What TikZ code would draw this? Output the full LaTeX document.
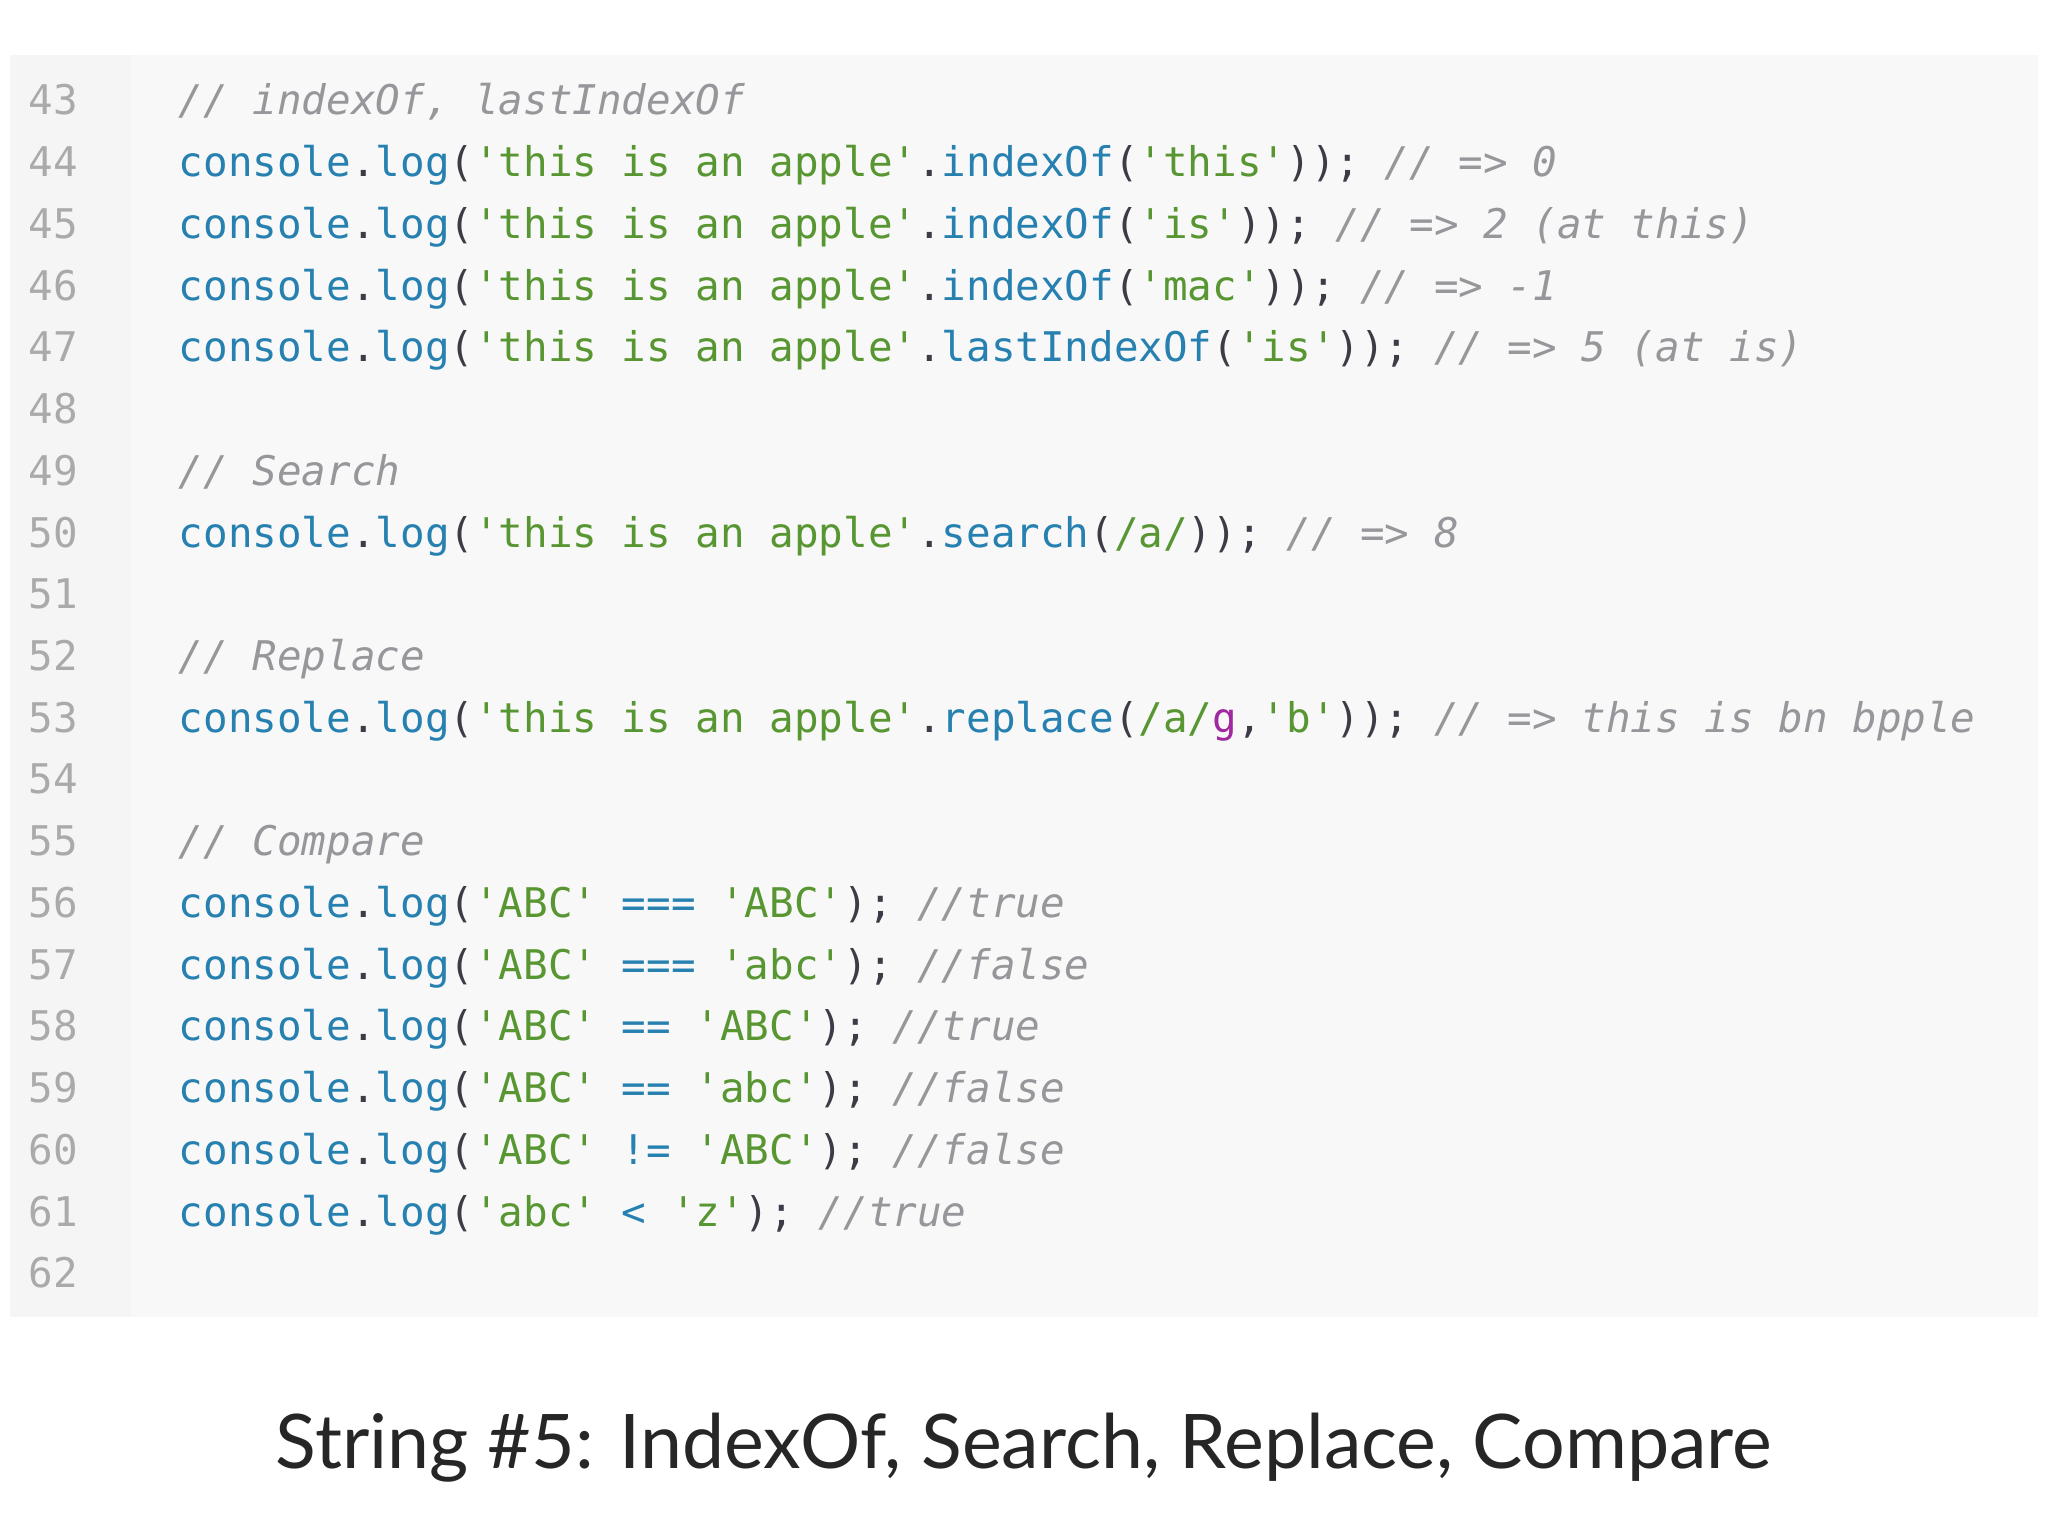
\documentclass[tikz,border=0pt]{standalone}
\usepackage{fontspec}
\setmonofont{DejaVu Sans Mono}
\setsansfont{Lato}
\usetikzlibrary{positioning}
\definecolor{CodeBg}{RGB}{248, 248, 248}
\definecolor{GutterBg}{RGB}{245, 245, 245}
\definecolor{LineNo}{RGB}{170, 170, 170}
\definecolor{KwBlue}{RGB}{38, 128, 176}
\definecolor{StrGreen}{RGB}{88, 150, 50}
\definecolor{CmGray}{RGB}{150, 150, 155}
\definecolor{Punct}{RGB}{60, 60, 70}
\definecolor{RegPurple}{RGB}{160, 40, 160}
\newcommand{\kw}[1]{\textcolor{KwBlue}{#1}}
\newcommand{\st}[1]{\textcolor{StrGreen}{#1}}
\newcommand{\cm}[1]{\textcolor{CmGray}{\itshape #1}}
\newcommand{\pc}[1]{\textcolor{Punct}{#1}}
\newcommand{\cl}{\kw{console}\pc{.}\kw{log}\pc{(}}
\newcommand{\apple}{\st{'this is an apple'}\pc{.}}
\begin{document}
\begin{tikzpicture}[x=0.01cm, y=-0.01cm,
    every node/.style={inner sep=0pt, outer sep=0pt},
    codeline/.style={anchor=base west, font=\ttfamily\fontsize{8.9}{10}\selectfont},
    lineno/.style={anchor=base west, font=\ttfamily\fontsize{8.9}{10}\selectfont, text=LineNo}]
        % Page and code box
        \useasboundingbox (0,0) rectangle (1568,1176);
        \fill[CodeBg] (8,42) rectangle (1560,1008);
        \fill[GutterBg] (8,42) rectangle (100,1008);

        % Line numbers
        \foreach \n [count=\i from 0] in {43,...,62}
            \node[lineno] (l\n) at (22, 88+47.26*\i) {\n};

        % Code
        \node[codeline] (c43) at (137, 88+47.26*0) {\cm{// indexOf, lastIndexOf}};
        \node[codeline] (c44) at (137, 88+47.26*1) {\cl\apple\kw{indexOf}\pc{(}\st{'this'}\pc{));} \cm{// => 0}};
        \node[codeline] (c45) at (137, 88+47.26*2) {\cl\apple\kw{indexOf}\pc{(}\st{'is'}\pc{));} \cm{// => 2 (at this)}};
        \node[codeline] (c46) at (137, 88+47.26*3) {\cl\apple\kw{indexOf}\pc{(}\st{'mac'}\pc{));} \cm{// => -1}};
        \node[codeline] (c47) at (137, 88+47.26*4) {\cl\apple\kw{lastIndexOf}\pc{(}\st{'is'}\pc{));} \cm{// => 5 (at is)}};
        \node[codeline] (c49) at (137, 88+47.26*6) {\cm{// Search}};
        \node[codeline] (c50) at (137, 88+47.26*7) {\cl\apple\kw{search}\pc{(}\st{/a/}\pc{));} \cm{// => 8}};
        \node[codeline] (c52) at (137, 88+47.26*9) {\cm{// Replace}};
        \node[codeline] (c53) at (137, 88+47.26*10) {\cl\apple\kw{replace}\pc{(}\st{/a/}\textcolor{RegPurple}{g}\pc{,}\st{'b'}\pc{));} \cm{// => this is bn bpple}};
        \node[codeline] (c55) at (137, 88+47.26*12) {\cm{// Compare}};
        \node[codeline] (c56) at (137, 88+47.26*13) {\cl\st{'ABC'} \kw{===} \st{'ABC'}\pc{);} \cm{//true}};
        \node[codeline] (c57) at (137, 88+47.26*14) {\cl\st{'ABC'} \kw{===} \st{'abc'}\pc{);} \cm{//false}};
        \node[codeline] (c58) at (137, 88+47.26*15) {\cl\st{'ABC'} \kw{==} \st{'ABC'}\pc{);} \cm{//true}};
        \node[codeline] (c59) at (137, 88+47.26*16) {\cl\st{'ABC'} \kw{==} \st{'abc'}\pc{);} \cm{//false}};
        \node[codeline] (c60) at (137, 88+47.26*17) {\cl\st{'ABC'} \kw{!=} \st{'ABC'}\pc{);} \cm{//false}};
        \node[codeline] (c61) at (137, 88+47.26*18) {\cl\st{'abc'} \kw{<} \st{'z'}\pc{);} \cm{//true}};

        % Title
        \node[anchor=base, font=\sffamily\fontsize{16.4}{20}\selectfont, text=black!85] (title) at (784,1124) {String \#5: IndexOf, Search, Replace, Compare};
    \end{tikzpicture}
\end{document}
